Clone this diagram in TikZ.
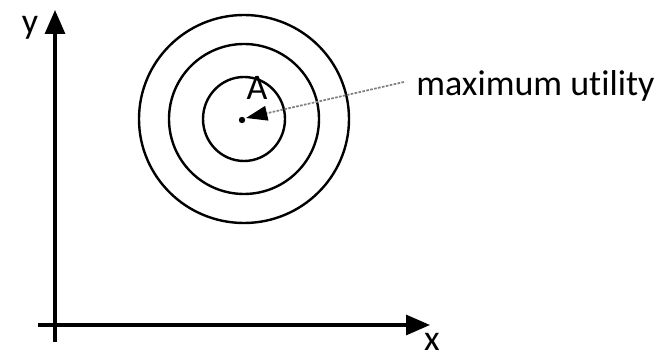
\documentclass[tikz,border=0pt]{standalone}
\usepackage{fontspec}
\setmainfont{Carlito}[Ligatures=NoCommon]
\usetikzlibrary{arrows.meta}
\begin{document}
\begin{tikzpicture}[x=0.75pt,y=-0.75pt,
  axis/.style={line width=2.4pt,-{Triangle[length=18pt,width=15pt]}},
  ring/.style={line width=1.8pt},
  lbl/.style={font=\fontsize{27}{30}\selectfont,inner sep=0pt},
  pointer/.style={gray,line width=1.3pt,dash pattern=on 2pt off 1pt,-{Triangle[length=16pt,width=11pt,black]}}]
\useasboundingbox (0,0) rectangle (664,359);
\coordinate (yb) at (55,342);
\coordinate (yt) at (55,10);
\coordinate (xl) at (38,325);
\coordinate (xr) at (430,325);
\draw[axis] (yb) -- (yt);
\draw[axis] (xl) -- (xr);
\node[lbl] (ylab) at (30,28) {y};
\node[lbl] (xlab) at (432,342) {x};
\coordinate (c) at (244,119);
\draw[ring] (c) ellipse [x radius=105, y radius=104];
\draw[ring] (c) ellipse [x radius=75, y radius=75];
\draw[ring] (c) ellipse [x radius=41, y radius=42];
\fill (242,120) circle (3.2);
\node[lbl] (A) at (257,88) {A};
\node[lbl,anchor=west] (mu) at (416,86) {maximum utility};
\coordinate (tip) at (246,118);
\draw[pointer] (mu.west) ++(-12,-4) coordinate (ps) -- (tip);
\end{tikzpicture}
\end{document}
